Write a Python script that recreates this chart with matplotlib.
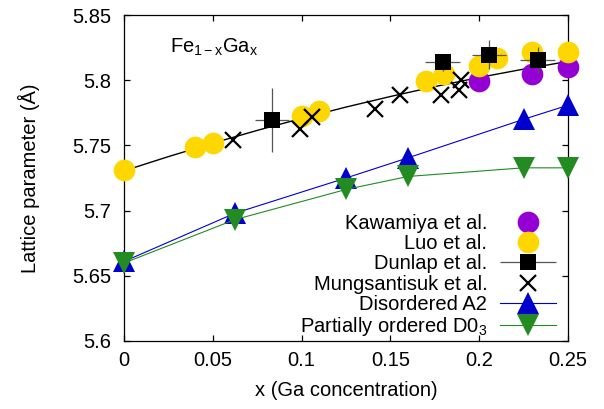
import numpy as np
import matplotlib
matplotlib.use("Agg")
import matplotlib.pyplot as plt
from matplotlib.legend_handler import HandlerErrorbar

plt.rcParams['font.family'] = ['Liberation Sans', 'DejaVu Sans']
plt.rcParams['mathtext.fontset'] = 'custom'
plt.rcParams['mathtext.rm'] = 'Liberation Sans'
plt.rcParams['mathtext.it'] = 'Liberation Sans'
plt.rcParams['font.size'] = 14.5

# Kawamiya et al.
kaw_x = [0.20, 0.23, 0.25]
kaw_y = [5.7995, 5.8046, 5.8098]

# Luo et al.
luo_x = [0.0, 0.04, 0.05, 0.10, 0.11, 0.17, 0.18, 0.20, 0.21, 0.23, 0.25]
luo_y = [5.7315, 5.749, 5.7515, 5.7725, 5.776, 5.7995, 5.805, 5.811, 5.8167, 5.8213, 5.822]

# Dunlap et al. (con barras de error)
dun_x = [0.0833, 0.1794, 0.2055, 0.2329]
dun_y = [5.7695, 5.8136, 5.8195, 5.8156]
dun_xerr = [0.0098, 0.0098, 0.0098, 0.0098]
dun_yerr = [0.0245, 0.0064, 0.011, 0.010]

# Mungsantisuk et al.
mung_x = [0.0612, 0.0991, 0.1057, 0.1413, 0.1554, 0.1783, 0.1886, 0.1900]
mung_y = [5.7542, 5.7623, 5.7721, 5.7782, 5.7887, 5.7887, 5.7923, 5.8002]

# calculos
calc_x = [0.0, 0.0625, 0.125, 0.16, 0.225, 0.25]
a2_y = [5.661, 5.698, 5.725, 5.7405, 5.770, 5.7808]
d03_y = [5.6598, 5.6931, 5.7162, 5.7262, 5.7328, 5.7328]

# curva de ajuste
fit_x = [0.0, 0.025, 0.05, 0.075, 0.1, 0.125, 0.15, 0.175, 0.2, 0.225, 0.25]
fit_y = [5.7305, 5.7414, 5.7517, 5.7615, 5.7707, 5.7794, 5.7875, 5.7951, 5.8021, 5.8085, 5.8144]

xticks = [0, 0.05, 0.1, 0.15, 0.2, 0.25]
xtick_labels = ['0', '0.05', '0.1', '0.15', '0.2', '0.25']
yticks = [5.6, 5.65, 5.7, 5.75, 5.8, 5.85]
ytick_labels = ['5.6', '5.65', '5.7', '5.75', '5.8', '5.85']

purple = '#9400D3'
gold = '#FFD700'
blue = '#0000CC'
green = '#228B22'
ebar = '#555555'

fig = plt.figure(figsize=(6.04, 4.09), dpi=100)
ax = fig.add_axes([0.2053, 0.1663, 0.7351, 0.797])

ax.plot(fit_x, fit_y, '-', color='black', lw=1.0, zorder=2)
h_kaw, = ax.plot(kaw_x, kaw_y, 'o', color=purple, ms=15.6, mew=0, clip_on=False, zorder=3)
h_luo, = ax.plot(luo_x, luo_y, 'o', color=gold, ms=15.6, mew=0, clip_on=False, zorder=4)
eb = ax.errorbar(dun_x, dun_y, xerr=dun_xerr, yerr=dun_yerr, fmt='s', color='black',
                 ms=11.5, mew=0, ecolor=ebar, elinewidth=0.9, capsize=1.8, capthick=0.9,
                 zorder=5)
h_mung, = ax.plot(mung_x, mung_y, 'x', color='black', ms=11.3, mew=1.6, zorder=6)
h_a2, = ax.plot(calc_x, a2_y, '-^', color=blue, lw=0.8, ms=15.6, mew=0, clip_on=False, zorder=7)
h_d03, = ax.plot(calc_x, d03_y, '-v', color=green, lw=0.8, ms=15.6, mew=0, clip_on=False, zorder=8)

# proxy para la leyenda (solo barra horizontal)
h_dun = ax.errorbar([np.nan], [np.nan], xerr=[0.01], fmt='s', color='black', ms=11.5, mew=0,
                    ecolor=ebar, elinewidth=0.9, capsize=1.8, capthick=0.9)

ax.text(0.0259, 5.8213, r'Fe$_{1-x}$Ga$_{x}$', ha='left', va='baseline')

ax.set_xlim(0, 0.25)
ax.set_ylim(5.6, 5.85)
ax.set_xticks(xticks)
ax.set_xticklabels(xtick_labels)
ax.set_yticks(yticks)
ax.set_yticklabels(ytick_labels)
ax.tick_params(direction='in', top=True, right=True, length=4.5, width=0.9)
ax.tick_params(axis='y', pad=9)
ax.tick_params(axis='x', pad=7)
for s in ax.spines.values():
    s.set_linewidth(0.9)

ax.set_xlabel('x (Ga concentration)')
ax.set_ylabel('Lattice parameter (Å)')
ax.xaxis.set_label_coords(0.5, -0.124)
ax.yaxis.set_label_coords(-0.19, 0.5)

handles = [h_kaw, h_luo, h_dun, h_mung, h_a2, h_d03]
labels = ['Kawamiya et al.', 'Luo et al.', 'Dunlap et al.', 'Mungsantisuk et al.',
          'Disordered A2', 'Partially ordered D0$_3$']
ax.legend(handles, labels, loc='lower right', bbox_to_anchor=(0.973, 0.009),
          frameon=False, markerfirst=False, numpoints=1, handlelength=2.78,
          handletextpad=0.63, labelspacing=0.06, borderpad=0, borderaxespad=0,
          handler_map={h_dun: HandlerErrorbar(xerr_size=1.39)})

fig.savefig('out.png', dpi=100)
